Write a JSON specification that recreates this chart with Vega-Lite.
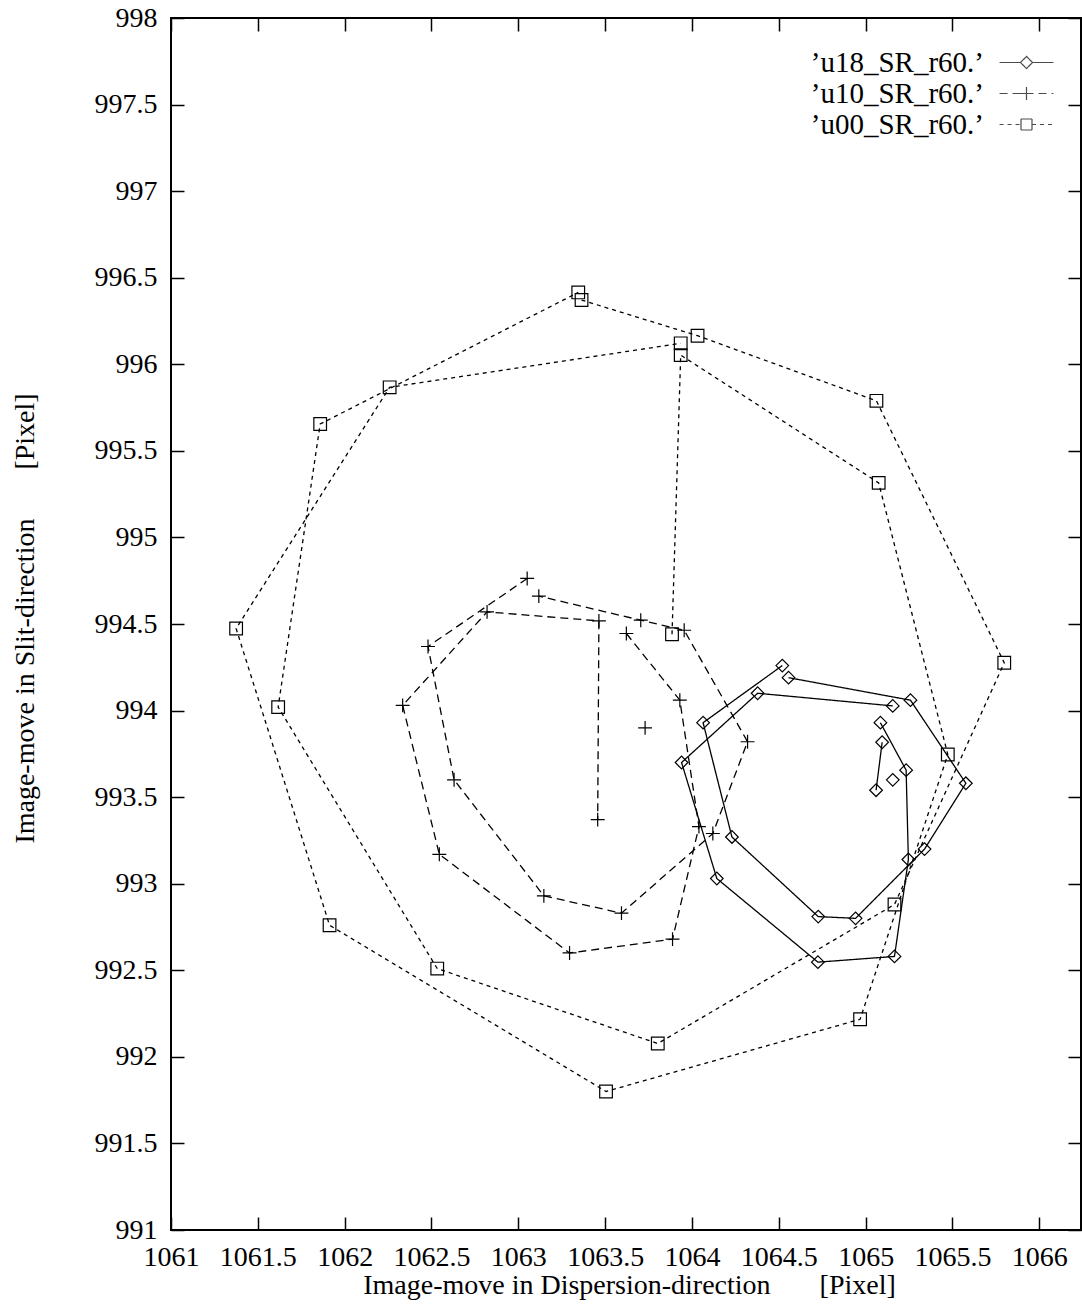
{
  "$schema": "https://vega.github.io/schema/vega-lite/v6.json",
  "width": 910,
  "height": 1212,
  "autosize": {"type": "none"},
  "padding": {"left": 171, "top": 18, "right": 1, "bottom": 79},
  "background": "white",
  "config": {
    "font": "Liberation Serif",
    "view": {"stroke": "#000", "strokeWidth": 2},
    "axis": {
      "labelFont": "Liberation Serif", "labelFontSize": 28, "labelColor": "#000",
      "titleFont": "Liberation Serif", "titleFontSize": 28, "titleFontWeight": "normal", "titleColor": "#000",
      "grid": false, "domain": false, "tickColor": "#000", "tickWidth": 1.5, "tickSize": -13,
      "labelFlush": false, "labelOverlap": false
    }
  },
  "datasets": {
    "pts": [
      {"s": "’u18_SR_r60.’", "g": 1, "o": 1, "x": 1064.52, "y": 994.26},
      {"s": "’u18_SR_r60.’", "g": 1, "o": 2, "x": 1064.064, "y": 993.93},
      {"s": "’u18_SR_r60.’", "g": 1, "o": 3, "x": 1064.23, "y": 993.27},
      {"s": "’u18_SR_r60.’", "g": 1, "o": 4, "x": 1064.727, "y": 992.81},
      {"s": "’u18_SR_r60.’", "g": 1, "o": 5, "x": 1064.942, "y": 992.8},
      {"s": "’u18_SR_r60.’", "g": 1, "o": 6, "x": 1065.339, "y": 993.2},
      {"s": "’u18_SR_r60.’", "g": 1, "o": 7, "x": 1065.577, "y": 993.58},
      {"s": "’u18_SR_r60.’", "g": 1, "o": 8, "x": 1065.258, "y": 994.06},
      {"s": "’u18_SR_r60.’", "g": 1, "o": 9, "x": 1064.556, "y": 994.19},
      {"s": "’u18_SR_r60.’", "g": 2, "o": 1, "x": 1065.085, "y": 993.93},
      {"s": "’u18_SR_r60.’", "g": 2, "o": 2, "x": 1065.233, "y": 993.656},
      {"s": "’u18_SR_r60.’", "g": 2, "o": 3, "x": 1065.246, "y": 993.14},
      {"s": "’u18_SR_r60.’", "g": 2, "o": 4, "x": 1065.166, "y": 992.58},
      {"s": "’u18_SR_r60.’", "g": 2, "o": 5, "x": 1064.725, "y": 992.547},
      {"s": "’u18_SR_r60.’", "g": 2, "o": 6, "x": 1064.143, "y": 993.03},
      {"s": "’u18_SR_r60.’", "g": 2, "o": 7, "x": 1063.94, "y": 993.7},
      {"s": "’u18_SR_r60.’", "g": 2, "o": 8, "x": 1064.378, "y": 994.1},
      {"s": "’u18_SR_r60.’", "g": 2, "o": 9, "x": 1065.156, "y": 994.027},
      {"s": "’u18_SR_r60.’", "g": 3, "o": 1, "x": 1065.095, "y": 993.817},
      {"s": "’u18_SR_r60.’", "g": 3, "o": 2, "x": 1065.06, "y": 993.54},
      {"s": "’u18_SR_r60.’", "g": 4, "o": 1, "x": 1065.156, "y": 993.6},

      {"s": "’u10_SR_r60.’", "g": 1, "o": 1, "x": 1063.051, "y": 994.763},
      {"s": "’u10_SR_r60.’", "g": 1, "o": 2, "x": 1062.48, "y": 994.37},
      {"s": "’u10_SR_r60.’", "g": 1, "o": 3, "x": 1062.63, "y": 993.6},
      {"s": "’u10_SR_r60.’", "g": 1, "o": 4, "x": 1063.147, "y": 992.93},
      {"s": "’u10_SR_r60.’", "g": 1, "o": 5, "x": 1063.594, "y": 992.83},
      {"s": "’u10_SR_r60.’", "g": 1, "o": 6, "x": 1064.12, "y": 993.29},
      {"s": "’u10_SR_r60.’", "g": 1, "o": 7, "x": 1064.32, "y": 993.82},
      {"s": "’u10_SR_r60.’", "g": 1, "o": 8, "x": 1063.955, "y": 994.464},
      {"s": "’u10_SR_r60.’", "g": 1, "o": 9, "x": 1063.705, "y": 994.522},
      {"s": "’u10_SR_r60.’", "g": 1, "o": 10, "x": 1063.118, "y": 994.661},
      {"s": "’u10_SR_r60.’", "g": 2, "o": 1, "x": 1063.622, "y": 994.445},
      {"s": "’u10_SR_r60.’", "g": 2, "o": 2, "x": 1063.93, "y": 994.06},
      {"s": "’u10_SR_r60.’", "g": 2, "o": 3, "x": 1064.04, "y": 993.33},
      {"s": "’u10_SR_r60.’", "g": 2, "o": 4, "x": 1063.888, "y": 992.68},
      {"s": "’u10_SR_r60.’", "g": 2, "o": 5, "x": 1063.295, "y": 992.6},
      {"s": "’u10_SR_r60.’", "g": 2, "o": 6, "x": 1062.545, "y": 993.17},
      {"s": "’u10_SR_r60.’", "g": 2, "o": 7, "x": 1062.334, "y": 994.03},
      {"s": "’u10_SR_r60.’", "g": 2, "o": 8, "x": 1062.82, "y": 994.57},
      {"s": "’u10_SR_r60.’", "g": 2, "o": 9, "x": 1063.464, "y": 994.518},
      {"s": "’u10_SR_r60.’", "g": 2, "o": 10, "x": 1063.457, "y": 993.37},
      {"s": "’u10_SR_r60.’", "g": 3, "o": 1, "x": 1063.73, "y": 993.9},

      {"s": "’u00_SR_r60.’", "g": 1, "o": 1, "x": 1063.364, "y": 996.371},
      {"s": "’u00_SR_r60.’", "g": 1, "o": 2, "x": 1064.032, "y": 996.165},
      {"s": "’u00_SR_r60.’", "g": 1, "o": 3, "x": 1065.062, "y": 995.789},
      {"s": "’u00_SR_r60.’", "g": 1, "o": 4, "x": 1065.798, "y": 994.276},
      {"s": "’u00_SR_r60.’", "g": 1, "o": 5, "x": 1065.166, "y": 992.88},
      {"s": "’u00_SR_r60.’", "g": 1, "o": 6, "x": 1063.803, "y": 992.077},
      {"s": "’u00_SR_r60.’", "g": 1, "o": 7, "x": 1062.533, "y": 992.51},
      {"s": "’u00_SR_r60.’", "g": 1, "o": 8, "x": 1061.617, "y": 994.02},
      {"s": "’u00_SR_r60.’", "g": 1, "o": 9, "x": 1061.859, "y": 995.655},
      {"s": "’u00_SR_r60.’", "g": 1, "o": 10, "x": 1063.345, "y": 996.415},
      {"s": "’u00_SR_r60.’", "g": 2, "o": 1, "x": 1063.885, "y": 994.441},
      {"s": "’u00_SR_r60.’", "g": 2, "o": 2, "x": 1063.935, "y": 996.053},
      {"s": "’u00_SR_r60.’", "g": 2, "o": 3, "x": 1065.075, "y": 995.315},
      {"s": "’u00_SR_r60.’", "g": 2, "o": 4, "x": 1065.473, "y": 993.746},
      {"s": "’u00_SR_r60.’", "g": 2, "o": 5, "x": 1064.968, "y": 992.217},
      {"s": "’u00_SR_r60.’", "g": 2, "o": 6, "x": 1063.505, "y": 991.8},
      {"s": "’u00_SR_r60.’", "g": 2, "o": 7, "x": 1061.913, "y": 992.76},
      {"s": "’u00_SR_r60.’", "g": 2, "o": 8, "x": 1061.375, "y": 994.474},
      {"s": "’u00_SR_r60.’", "g": 2, "o": 9, "x": 1062.259, "y": 995.867},
      {"s": "’u00_SR_r60.’", "g": 2, "o": 10, "x": 1063.935, "y": 996.121}
    ]
  },
  "data": {"name": "pts"},
  "layer": [
    {
      "mark": {"type": "line", "color": "#000", "strokeWidth": 1.3},
      "encoding": {
        "x": {
          "field": "x", "type": "quantitative",
          "scale": {"domain": [1061, 1066.24], "nice": false, "zero": false},
          "axis": {
            "orient": "bottom",
            "values": [1061, 1061.5, 1062, 1062.5, 1063, 1063.5, 1064, 1064.5, 1065, 1065.5, 1066],
            "format": ".1~f",
            "labelPadding": 26,
            "title": "Image-move in Dispersion-direction\u00a0\u00a0\u00a0\u00a0\u00a0\u00a0\u00a0[Pixel]",
            "titleX": 458, "titleY": 55, "titleBaseline": "middle"
          }
        },
        "y": {
          "field": "y", "type": "quantitative",
          "scale": {"domain": [991, 998], "nice": false, "zero": false},
          "axis": {
            "orient": "left",
            "values": [991, 991.5, 992, 992.5, 993, 993.5, 994, 994.5, 995, 995.5, 996, 996.5, 997, 997.5, 998],
            "format": ".1~f",
            "labelPadding": 27,
            "title": "Image-move in Slit-direction\u00a0\u00a0\u00a0\u00a0\u00a0\u00a0\u00a0[Pixel]",
            "titleX": -146, "titleY": 600, "titleBaseline": "middle", "titleAngle": -90
          }
        },
        "detail": {"field": "g", "type": "nominal"},
        "order": {"field": "o", "type": "quantitative"},
        "strokeDash": {
          "field": "s", "type": "nominal",
          "scale": {"domain": ["’u18_SR_r60.’", "’u10_SR_r60.’", "’u00_SR_r60.’"], "range": [[1, 0], [8, 5], [4, 4]]},
          "legend": null
        }
      }
    },
    {
      "mark": {"type": "point", "filled": false, "color": "#000", "strokeWidth": 1.2, "size": 160, "opacity": 1},
      "encoding": {
        "x": {"field": "x", "type": "quantitative", "axis": {"orient": "top", "values": [1061, 1061.5, 1062, 1062.5, 1063, 1063.5, 1064, 1064.5, 1065, 1065.5, 1066], "labels": false, "title": null}},
        "y": {"field": "y", "type": "quantitative", "axis": {"orient": "right", "values": [991, 991.5, 992, 992.5, 993, 993.5, 994, 994.5, 995, 995.5, 996, 996.5, 997, 997.5, 998], "labels": false, "title": null}},
        "shape": {
          "field": "s", "type": "nominal",
          "scale": {"domain": ["’u18_SR_r60.’", "’u10_SR_r60.’", "’u00_SR_r60.’"], "range": ["diamond", "M-1.1,0H1.1M0,-1.1V1.1", "square"]},
          "legend": null
        }
      }
    },
    {
      "transform": [{"filter": "false"}],
      "mark": {"type": "point", "filled": false, "color": "#000", "strokeWidth": 1.2},
      "encoding": {
        "shape": {
          "field": "s", "type": "nominal",
          "scale": {"domain": ["’u18_SR_r60.’", "’u10_SR_r60.’", "’u00_SR_r60.’"], "range": [
            "M-2.45,0H-0.55M0.55,0H2.45M-0.55,0L0,-0.55L0.55,0L0,0.55Z",
            "M-2.45,0H2.45M-0.6,0H0M0,0H0.6M0,-0.6V0M0,0V0.6",
            "M-2.45,0H-0.5M0.5,0H2.45M-0.5,-0.5H-0.17M-0.17,-0.5H0.17M0.17,-0.5H0.5M0.5,-0.5V-0.17M0.5,-0.17V0.17M0.5,0.17V0.5M0.5,0.5H0.17M0.17,0.5H-0.17M-0.17,0.5H-0.5M-0.5,0.5V0.17M-0.5,0.17V-0.17M-0.5,-0.17V-0.5"
          ]},
          "legend": {
            "orient": "none", "legendX": 841, "legendY": 30, "title": null,
            "labelFont": "Liberation Serif", "labelFontSize": 29, "labelColor": "#000", "labelLimit": 0,
            "labelAlign": "right", "labelOffset": -57,
            "symbolSize": 484, "symbolStrokeWidth": 1.2, "symbolStrokeColor": "#000", "symbolFillColor": "transparent",
            "rowPadding": 1
          }
        },
        "strokeDash": {
          "field": "s", "type": "nominal",
          "scale": {"domain": ["’u18_SR_r60.’", "’u10_SR_r60.’", "’u00_SR_r60.’"], "range": [[1, 0], [8, 5], [4, 4]]},
          "legend": {
            "orient": "none", "legendX": 841, "legendY": 30, "title": null,
            "labelFont": "Liberation Serif", "labelFontSize": 29, "labelColor": "#000", "labelLimit": 0,
            "labelAlign": "right", "labelOffset": -57,
            "symbolSize": 484, "symbolStrokeWidth": 1.2, "symbolStrokeColor": "#000", "symbolFillColor": "transparent",
            "rowPadding": 1
          }
        }
      }
    }
  ],
  "resolve": {
    "axis": {"x": "independent", "y": "independent"},
    "scale": {"shape": "independent", "strokeDash": "independent"}
  }
}
